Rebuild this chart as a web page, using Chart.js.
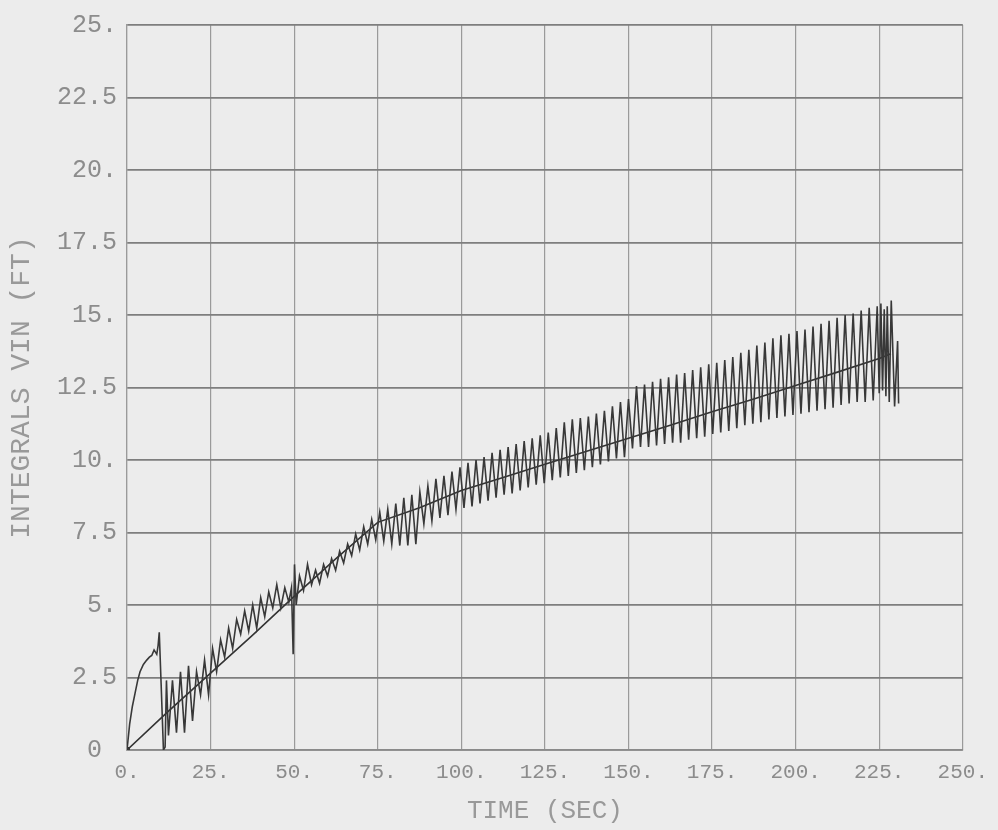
<!DOCTYPE html>
<html>
<head>
<meta charset="utf-8">
<script src="https://cdn.jsdelivr.net/npm/chart.js@4"></script>
<style>
html,body{margin:0;padding:0;background:#ececec;}
canvas{display:block;}
</style>
</head>
<body>
<canvas id="c" width="998" height="830"></canvas>
<script>
// tick labels as printed on the plot
const xTickLabels = ['0.', '25.', '50.', '75.', '100.', '125.', '150.', '175.', '200.', '225.', '250.'];
const yTickLabels = ['0 ', '2.5', '5.', '7.5', '10.', '12.5', '15.', '17.5', '20.', '22.5', '25.'];

// oscillating integral trace
const oscX = [0, 0.8, 1.6, 2.4, 3.2, 3.9, 4.9, 5.9, 6.7, 7.4, 8.1, 8.9, 9.3, 9.65, 10.2, 10.9, 11.4, 11.8,
  12.4, 13.6, 14.8, 16.0, 17.2, 18.4, 19.6, 20.8, 22.0, 23.2, 24.4, 25.6, 26.8, 28.0, 29.2, 30.4, 31.6, 32.8,
  34.0, 35.2, 36.4, 37.6, 38.8, 40.0, 41.2, 42.4, 43.6, 44.8, 46.0, 47.2, 48.4, 49.2, 49.7, 50.1, 50.6, 51.6,
  52.8, 54.0, 55.2, 56.4, 57.6, 58.8, 60.0, 61.2, 62.4, 63.6, 64.8, 66.0, 67.2, 68.4, 69.6, 70.8, 72.0, 73.2,
  74.4, 75.6, 76.8, 78.0, 79.2, 80.4, 81.6, 82.8, 84.0, 85.2, 86.4, 87.6, 88.8, 90.0, 91.2, 92.4, 93.6, 94.8,
  96.0, 97.2, 98.4, 99.6, 100.8, 102.0, 103.2, 104.4, 105.6, 106.8, 108.0, 109.2, 110.4, 111.6, 112.8, 114.0,
  115.2, 116.4, 117.6, 118.8, 120.0, 121.2, 122.4, 123.6, 124.8, 126.0, 127.2, 128.4, 129.6, 130.8, 132.0, 133.2,
  134.4, 135.6, 136.8, 138.0, 139.2, 140.4, 141.6, 142.8, 144.0, 145.2, 146.4, 147.6, 148.8, 150.0, 151.2, 152.4,
  153.6, 154.8, 156.0, 157.2, 158.4, 159.6, 160.8, 162.0, 163.2, 164.4, 165.6, 166.8, 168.0, 169.2, 170.4, 171.6,
  172.8, 174.0, 175.2, 176.4, 177.6, 178.8, 180.0, 181.2, 182.4, 183.6, 184.8, 186.0, 187.2, 188.4, 189.6, 190.8,
  192.0, 193.2, 194.4, 195.6, 196.8, 198.0, 199.2, 200.4, 201.6, 202.8, 204.0, 205.2, 206.4, 207.6, 208.8, 210.0,
  211.2, 212.4, 213.6, 214.8, 216.0, 217.2, 218.4, 219.6, 220.8, 222.0, 223.2, 224.4, 225.0, 225.5, 226.0, 226.5,
  227.0, 227.4, 228.0, 228.6, 229.6, 230.5, 230.8];
const oscY = [0, 0.9, 1.5, 1.95, 2.4, 2.7, 2.95, 3.1, 3.2, 3.26, 3.45, 3.3, 3.6, 4.06, 2.3, 0, 0.1, 2.4,
  0.5, 2.4, 0.6, 2.7, 0.6, 2.9, 1.0, 2.7, 1.9, 3.1, 1.9, 3.5, 2.7, 3.8, 3.2, 4.2, 3.5, 4.5,
  4.0, 4.8, 4.1, 5.0, 4.2, 5.25, 4.6, 5.45, 4.9, 5.7, 4.9, 5.6, 5.1, 5.6, 3.3, 6.4, 5.0, 6.0,
  5.5, 6.4, 5.7, 6.2, 5.75, 6.4, 6.0, 6.6, 6.2, 6.85, 6.45, 7.1, 6.7, 7.45, 6.9, 7.7, 7.1, 7.95,
  7.25, 8.2, 7.2, 8.3, 7.1, 8.5, 7.05, 8.7, 7.05, 8.8, 7.1, 8.9, 7.8, 9.1, 7.9, 9.35, 8.0, 9.45,
  8.1, 9.6, 8.3, 9.75, 8.35, 9.9, 8.4, 10.0, 8.5, 10.1, 8.6, 10.25, 8.7, 10.35, 8.8, 10.45,
  8.85, 10.55, 8.95, 10.65, 9.05, 10.75, 9.15, 10.85, 9.2, 10.95, 9.3, 11.1, 9.4, 11.3, 9.45, 11.4,
  9.55, 11.45, 9.65, 11.5, 9.75, 11.6, 9.85, 11.7, 9.95, 11.85, 10.05, 12.0, 10.1, 12.1, 10.4, 12.55,
  10.45, 12.6, 10.45, 12.7, 10.5, 12.8, 10.55, 12.85, 10.6, 12.95, 10.6, 13.0, 10.7, 13.1, 10.75, 13.2,
  10.8, 13.3, 10.9, 13.35, 10.95, 13.45, 11.0, 13.55, 11.1, 13.7, 11.2, 13.8, 11.25, 13.95, 11.3, 14.05,
  11.4, 14.2, 11.45, 14.3, 11.5, 14.35, 11.55, 14.45, 11.6, 14.5, 11.65, 14.6, 11.7, 14.7, 11.75, 14.8,
  11.8, 14.9, 11.9, 15.0, 11.95, 15.05, 12.0, 15.15, 12.0, 15.25, 12.05, 15.3, 12.3, 15.4, 12.4, 15.2,
  12.2, 15.3, 12.0, 15.5, 11.85, 14.1, 11.95];

// smoothed (mean) trace
const meanX = [0, 12, 25, 37.5, 50, 62.5, 75, 87.5, 100, 112.5, 125, 137.5, 150, 162.5, 175, 187.5, 200, 212.5, 225, 228.5];
const meanY = [0, 1.3, 2.65, 3.95, 5.3, 6.6, 7.85, 8.35, 8.95, 9.4, 9.85, 10.3, 10.75, 11.2, 11.66, 12.1, 12.57, 13.03, 13.5, 13.66];

const FONT = "'Liberation Mono', 'DejaVu Sans Mono', monospace";

const bg = {
  id: 'bg',
  beforeDraw(chart) {
    const ctx = chart.ctx;
    ctx.save();
    ctx.fillStyle = '#ececec';
    ctx.fillRect(0, 0, chart.width, chart.height);
    ctx.restore();
  }
};

new Chart(document.getElementById('c').getContext('2d'), {
  type: 'scatter',
  data: {
    datasets: [
      {
        data: oscX.map((x, i) => ({x: x, y: oscY[i]})),
        showLine: true,
        borderColor: '#383838',
        borderWidth: 1.6,
        pointRadius: 0,
        tension: 0
      },
      {
        data: meanX.map((x, i) => ({x: x, y: meanY[i]})),
        showLine: true,
        borderColor: '#333333',
        borderWidth: 1.6,
        pointRadius: ctx => ctx.dataIndex === 0 ? 3 : 0,
        pointStyle: 'rect',
        pointBackgroundColor: 'rgba(0,0,0,0)',
        pointBorderColor: '#333333',
        tension: 0
      }
    ]
  },
  options: {
    responsive: false,
    animation: false,
    layout: {padding: {top: 21, right: 32, left: 0, bottom: 0}},
    plugins: {legend: {display: false}, tooltip: {enabled: false}},
    scales: {
      x: {
        type: 'linear',
        min: 0, max: 250,
        afterFit: s => { s.height = 80; },
        ticks: {
          stepSize: 25,
          padding: 10,
          color: '#8c8c8c',
          font: {family: FONT, size: 21},
          callback: (v, i) => xTickLabels[i]
        },
        grid: {color: '#9a9a9a', lineWidth: 1.2, drawTicks: false},
        border: {color: '#8a8a8a', width: 1.6},
        title: {
          display: true,
          text: 'TIME (SEC)',
          color: '#999999',
          font: {family: FONT, size: 26},
          padding: {top: 0, bottom: 3}
        }
      },
      y: {
        type: 'linear',
        min: 0, max: 25,
        afterFit: s => { s.width = 127; },
        ticks: {
          stepSize: 2.5,
          padding: 10,
          color: '#8c8c8c',
          font: {family: FONT, size: 25},
          callback: (v, i) => yTickLabels[i]
        },
        grid: {color: '#7e7e7e', lineWidth: 1.8, drawTicks: false},
        border: {color: '#9a9a9a', width: 1.2},
        title: {
          display: true,
          text: 'INTEGRALS VIN (FT)',
          color: '#999999',
          font: {family: FONT, size: 28},
          padding: {top: 5, bottom: 0}
        }
      }
    }
  },
  plugins: [bg]
});
</script>
</body>
</html>
